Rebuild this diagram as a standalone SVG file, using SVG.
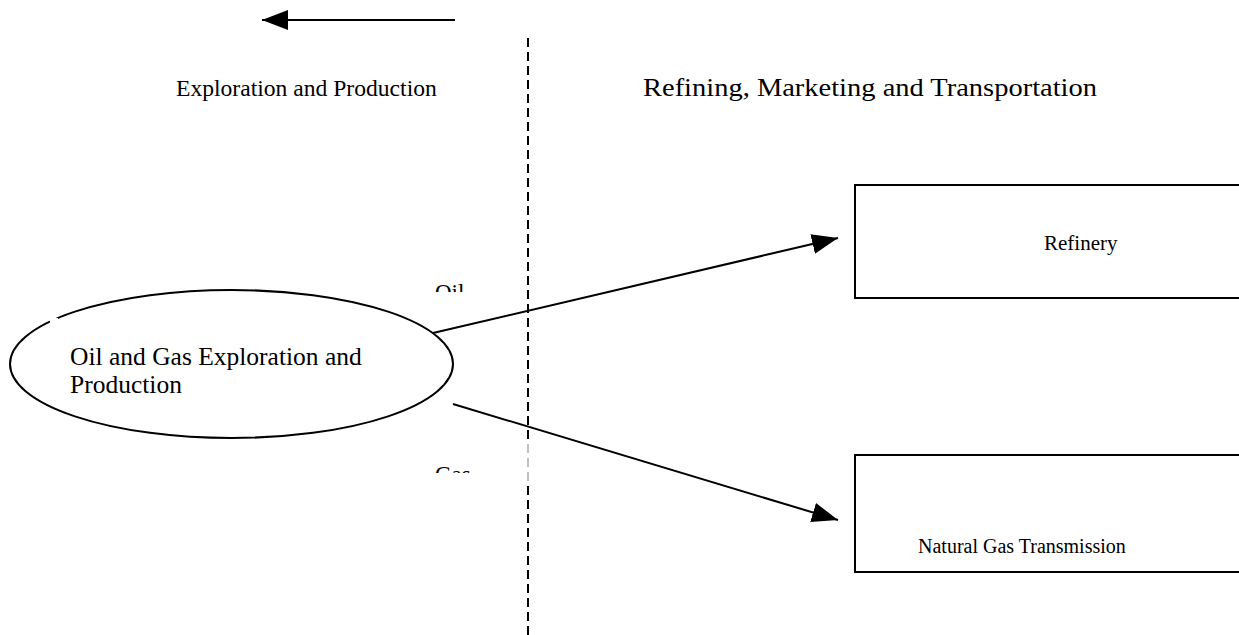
<svg xmlns="http://www.w3.org/2000/svg" width="1239" height="635" viewBox="0 0 1239 635">
<style>
text{font-family:"Liberation Serif","Times New Roman",serif;font-size:21px;fill:#000}
.ln{stroke:#000;stroke-width:2;fill:none}
.box{stroke:#000;stroke-width:2;fill:#fff}
</style>
<defs>
<marker id="ah" markerUnits="userSpaceOnUse" markerWidth="28" markerHeight="22" refX="26" refY="11" orient="auto">
<path d="M0,1 L26,11 L0,21 Z" fill="#000"/>
</marker>
<clipPath id="clipOil"><rect x="420" y="270" width="60" height="22"/></clipPath>
<clipPath id="clipGas"><rect x="420" y="455" width="60" height="18"/></clipPath>
</defs>
<rect width="1239" height="635" fill="#fff"/>
<g id="connectors">
<line class="ln" x1="528" y1="38" x2="528" y2="635" stroke-dasharray="9,5"/>
<rect x="420" y="442" width="112" height="41" fill="#fff" opacity="0.75"/>
<line class="ln" x1="455" y1="20" x2="262" y2="20" marker-end="url(#ah)"/>
<line class="ln" x1="433" y1="333" x2="838" y2="238" marker-end="url(#ah)"/>
<line class="ln" x1="453" y1="404" x2="838" y2="520" marker-end="url(#ah)"/>
</g>
<g id="label-left"><text x="176" y="96" style="font-size:23.6px">Exploration and Production</text></g>
<g id="label-right"><text x="643" y="96" style="font-size:25px" textLength="454" lengthAdjust="spacingAndGlyphs">Refining, Marketing and Transportation</text></g>
<g id="node-ep">
<ellipse class="ln" cx="231.5" cy="364" rx="221.5" ry="74"/>
<rect x="50" y="318" width="8" height="12" fill="#fff"/>
<text x="70" y="365" style="font-size:25.5px">Oil and Gas Exploration and</text>
<text x="70" y="393" style="font-size:25.5px">Production</text>
</g>
<g id="label-oil"><text x="435" y="300" style="font-size:23px" clip-path="url(#clipOil)">Oil</text></g>
<g id="label-gas"><text x="435" y="482" style="font-size:23px" clip-path="url(#clipGas)">Gas</text></g>
<g id="node-refinery">
<rect class="box" x="855" y="185" width="390" height="113"/>
<text x="1044" y="250">Refinery</text>
</g>
<g id="node-ngt">
<rect class="box" x="855" y="455" width="390" height="117"/>
<text x="918" y="553" style="font-size:20px">Natural Gas Transmission</text>
</g>
</svg>
